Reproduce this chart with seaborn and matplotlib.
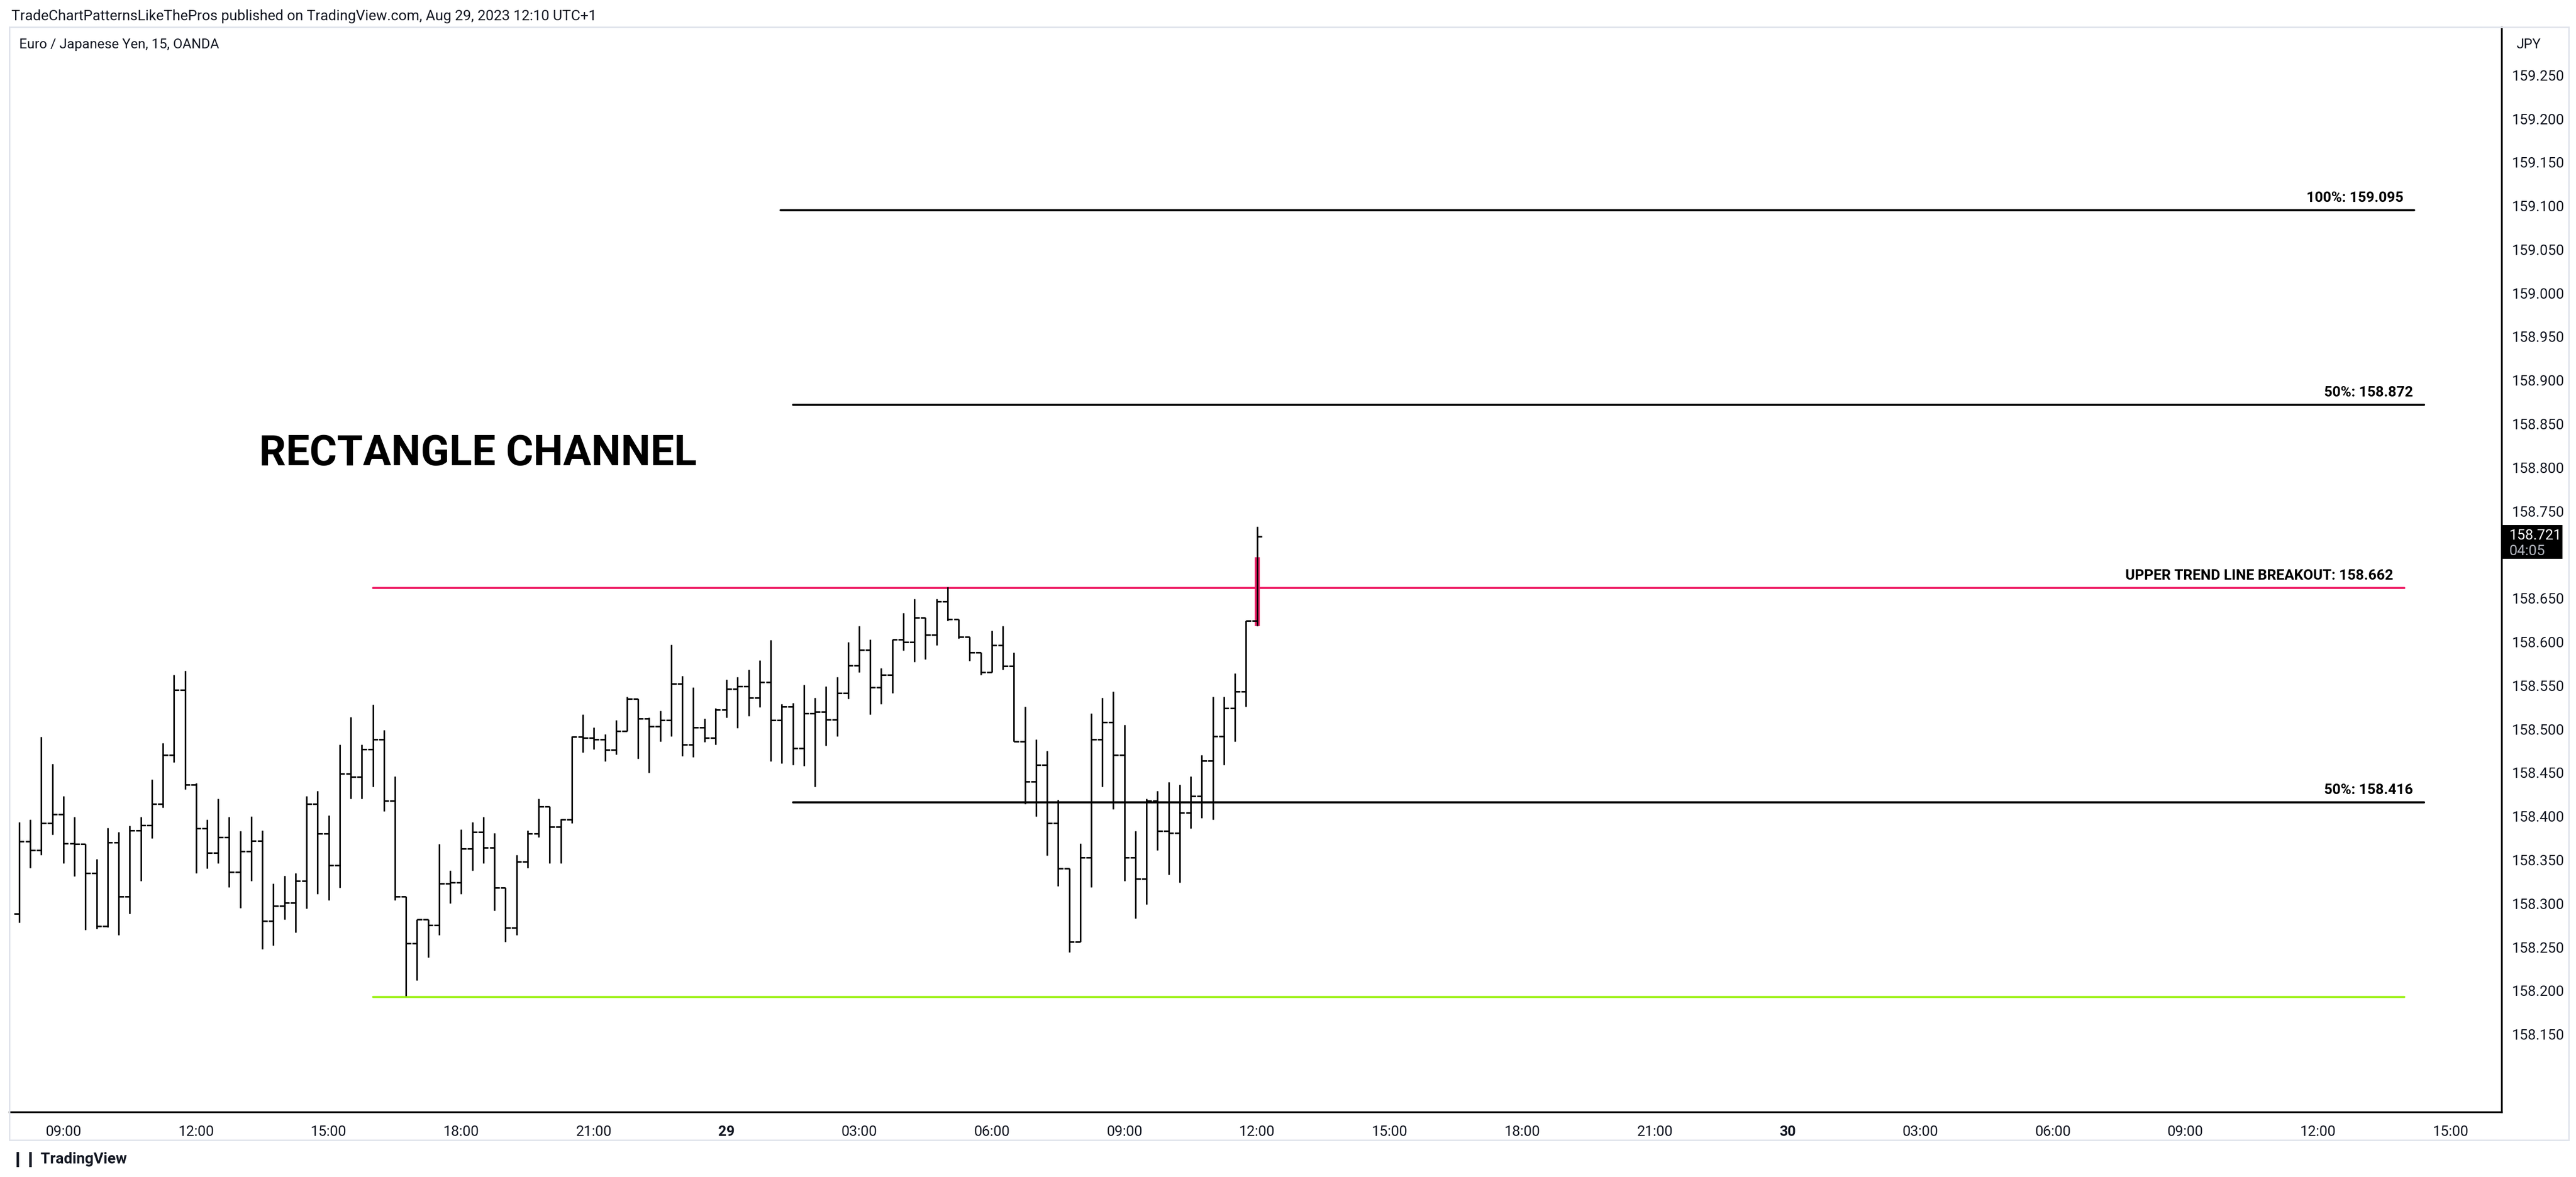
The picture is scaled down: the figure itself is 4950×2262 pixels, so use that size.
import numpy as np
import pandas as pd
import matplotlib
matplotlib.use("Agg")
import matplotlib.pyplot as plt
import matplotlib.transforms as mtrans
from matplotlib.patches import Rectangle
import seaborn as sns

# EUR/JPY 15-minute bars, Aug 28 08:00 -> Aug 29 12:00 (bar index 0..112)
opens = [158.288, 158.371, 158.361, 158.392, 158.402, 158.369, 158.368, 158.335, 158.274, 158.370,
         158.308, 158.384, 158.390, 158.414, 158.470, 158.545, 158.436, 158.386, 158.358, 158.376,
         158.336, 158.360, 158.372, 158.280, 158.297, 158.301, 158.326, 158.414, 158.380, 158.344,
         158.449, 158.445, 158.477, 158.488, 158.418, 158.308, 158.254, 158.282, 158.275, 158.323,
         158.324, 158.363, 158.382, 158.364, 158.318, 158.272, 158.348, 158.380, 158.411, 158.388,
         158.396, 158.491, 158.490, 158.488, 158.476, 158.498, 158.535, 158.512, 158.503, 158.510,
         158.552, 158.482, 158.502, 158.490, 158.522, 158.546, 158.549, 158.536, 158.554, 158.510,
         158.526, 158.478, 158.518, 158.520, 158.511, 158.541, 158.573, 158.591, 158.548, 158.562,
         158.603, 158.600, 158.628, 158.608, 158.646, 158.626, 158.606, 158.588, 158.565, 158.596,
         158.572, 158.486, 158.440, 158.459, 158.392, 158.340, 158.256, 158.353, 158.488, 158.508,
         158.470, 158.353, 158.328, 158.418, 158.383, 158.381, 158.404, 158.423, 158.464, 158.492,
         158.524, 158.543, 158.624]
highs = [158.393, 158.396, 158.491, 158.460, 158.423, 158.399, 158.368, 158.351, 158.387, 158.382,
         158.389, 158.399, 158.442, 158.484, 158.562, 158.567, 158.438, 158.396, 158.420, 158.399,
         158.383, 158.400, 158.384, 158.323, 158.332, 158.335, 158.423, 158.429, 158.401, 158.482,
         158.514, 158.482, 158.528, 158.499, 158.446, 158.308, 158.282, 158.282, 158.368, 158.338,
         158.385, 158.393, 158.399, 158.381, 158.318, 158.356, 158.384, 158.420, 158.411, 158.397,
         158.492, 158.517, 158.502, 158.494, 158.510, 158.537, 158.535, 158.513, 158.521, 158.597,
         158.561, 158.548, 158.512, 158.524, 158.557, 158.560, 158.568, 158.579, 158.602, 158.529,
         158.530, 158.551, 158.536, 158.549, 158.560, 158.600, 158.618, 158.603, 158.570, 158.603,
         158.633, 158.649, 158.628, 158.649, 158.663, 158.626, 158.606, 158.588, 158.613, 158.618,
         158.588, 158.526, 158.488, 158.475, 158.419, 158.340, 158.369, 158.518, 158.536, 158.543,
         158.505, 158.383, 158.420, 158.429, 158.439, 158.436, 158.446, 158.470, 158.537, 158.537,
         158.564, 158.624, 158.732]
lows = [158.278, 158.341, 158.356, 158.379, 158.346, 158.331, 158.270, 158.271, 158.273, 158.264,
        158.288, 158.326, 158.375, 158.410, 158.462, 158.431, 158.335, 158.340, 158.346, 158.319,
        158.295, 158.326, 158.248, 158.252, 158.282, 158.267, 158.294, 158.311, 158.304, 158.318,
        158.420, 158.420, 158.434, 158.406, 158.304, 158.194, 158.212, 158.238, 158.264, 158.300,
        158.311, 158.338, 158.346, 158.292, 158.256, 158.264, 158.341, 158.376, 158.346, 158.346,
        158.392, 158.473, 158.477, 158.463, 158.471, 158.498, 158.466, 158.450, 158.486, 158.492,
        158.469, 158.468, 158.485, 158.482, 158.513, 158.501, 158.515, 158.525, 158.463, 158.461,
        158.459, 158.458, 158.434, 158.481, 158.492, 158.535, 158.565, 158.517, 158.529, 158.541,
        158.590, 158.577, 158.580, 158.596, 158.624, 158.604, 158.578, 158.562, 158.565, 158.568,
        158.486, 158.414, 158.400, 158.355, 158.320, 158.244, 158.256, 158.319, 158.434, 158.408,
        158.326, 158.283, 158.299, 158.361, 158.333, 158.324, 158.386, 158.398, 158.396, 158.459,
        158.486, 158.526, 158.618]
closes = [158.371, 158.361, 158.392, 158.402, 158.369, 158.368, 158.335, 158.274, 158.370, 158.308,
          158.384, 158.390, 158.414, 158.470, 158.545, 158.436, 158.386, 158.358, 158.376, 158.336,
          158.360, 158.372, 158.280, 158.297, 158.301, 158.326, 158.414, 158.380, 158.344, 158.449,
          158.445, 158.477, 158.488, 158.418, 158.308, 158.254, 158.282, 158.275, 158.323, 158.324,
          158.363, 158.382, 158.364, 158.318, 158.272, 158.348, 158.380, 158.411, 158.388, 158.396,
          158.491, 158.490, 158.488, 158.476, 158.498, 158.535, 158.512, 158.503, 158.510, 158.552,
          158.482, 158.502, 158.490, 158.522, 158.546, 158.549, 158.536, 158.554, 158.510, 158.526,
          158.478, 158.518, 158.520, 158.511, 158.541, 158.573, 158.591, 158.548, 158.562, 158.603,
          158.600, 158.628, 158.608, 158.646, 158.626, 158.606, 158.588, 158.565, 158.596, 158.572,
          158.486, 158.440, 158.459, 158.392, 158.340, 158.256, 158.353, 158.488, 158.508, 158.470,
          158.353, 158.328, 158.418, 158.383, 158.381, 158.404, 158.423, 158.464, 158.492, 158.524,
          158.543, 158.624, 158.721]

# drawn levels: (value, start bar, end bar, label, colour)
level_vals = [159.095, 158.872, 158.662, 158.416, 158.193]
level_start = [68.9, 70.0, 32.0, 70.0, 32.0]
level_end = [216.7, 217.6, 215.8, 217.6, 215.8]
level_text = ["100%: 159.095", "50%: 158.872", "UPPER TREND LINE BREAKOUT: 158.662", "50%: 158.416", ""]
level_col = ["#000000", "#000000", "#ee2167", "#000000", "#a3f227"]

tick_pos = [4 + 12 * k for k in range(19)]
tick_lab = ["09:00", "12:00", "15:00", "18:00", "21:00", "29", "03:00", "06:00", "09:00", "12:00",
            "15:00", "18:00", "21:00", "30", "03:00", "06:00", "09:00", "12:00", "15:00"]
# 158.700 sits under the last-price box, so it is not labelled
price_ticks = [158.15, 158.20, 158.25, 158.30, 158.35, 158.40, 158.45, 158.50, 158.55, 158.60,
               158.65, 158.75, 158.80, 158.85, 158.90, 158.95, 159.00, 159.05, 159.10, 159.15,
               159.20, 159.25]

sns.set_theme(style="white")
plt.rcParams['font.family'] = ['Roboto', 'DejaVu Sans']

fig = plt.figure(figsize=(49.5, 22.62), dpi=100)
ax = fig.add_axes([0.0036, 0.0553, 0.9675, 0.9217])

df = pd.DataFrame(dict(o=opens, h=highs, l=lows, c=closes))
idx = np.arange(len(df))

# breakout highlight on the last bar
ax.vlines(idx[-1], 158.618, 158.697, color="#ee2167", linewidth=7, zorder=3)

ax.vlines(idx, df.l, df.h, color="black", linewidth=2.2, zorder=4)
ax.hlines(df.o, idx - 0.45, idx, color="black", linewidth=2.2, zorder=4)
ax.hlines(df.c, idx, idx + 0.45, color="black", linewidth=2.2, zorder=4)

for v, s, e, t, col in zip(level_vals, level_start, level_end, level_text, level_col):
    sns.lineplot(x=[s, e], y=[v, v], color=col, linewidth=3, ax=ax, zorder=2)
    if t:
        ax.text(e - 1.0, v + 0.006, t, ha="right", va="bottom", fontsize=20,
                fontweight="bold", color="black")

ax.text(21.7, 158.816, "RECTANGLE CHANNEL", fontsize=58, fontweight="bold",
        ha="left", va="center", color="black")

ax.set_xlim(-0.9, 224.6)
ax.set_ylim(158.061, 159.305)

ax.yaxis.tick_right()
ax.set_yticks(price_ticks)
ax.set_yticklabels([f"{p:.3f}" for p in price_ticks])
ax.tick_params(axis="y", length=0, pad=14, labelsize=20, colors="#131722")
ax.set_xticks(tick_pos)
ax.set_xticklabels(tick_lab)
ax.tick_params(axis="x", length=0, pad=18, labelsize=20, colors="#131722")
for lab in ax.get_xticklabels():
    if lab.get_text() in ("29", "30"):
        lab.set_fontweight("bold")

for side in ("left", "top"):
    ax.spines[side].set_color("#e0e3eb")
    ax.spines[side].set_linewidth(2)
for side in ("right", "bottom"):
    ax.spines[side].set_color("black")
    ax.spines[side].set_linewidth(2.5)
ax.grid(False)

# last price box
tr = mtrans.blended_transform_factory(ax.transAxes, ax.transData)
ax.add_patch(Rectangle((1.0, 158.695), 0.0245, 0.039, transform=tr, facecolor="black",
                       edgecolor="none", clip_on=False, zorder=5))
ax.text(1.003, 158.722, "158.721", transform=tr, color="white", fontsize=20,
        va="center", ha="left", zorder=6)
ax.text(1.003, 158.704, "04:05", transform=tr, color="#b2b5be", fontsize=20,
        va="center", ha="left", zorder=6)

# outer frame of the chart panel
fig.add_artist(Rectangle((0.0036, 0.0314), 0.9935, 0.9456, transform=fig.transFigure,
                         fill=False, edgecolor="#e0e3eb", linewidth=2))

fig.text(0.0045, 0.986, "TradeChartPatternsLikeThePros published on TradingView.com, Aug 29, 2023 12:10 UTC+1",
         fontsize=20, ha="left", va="center", color="#131722")
fig.text(0.0075, 0.962, "Euro / Japanese Yen, 15, OANDA", fontsize=19, ha="left",
         va="center", color="#131722")
fig.text(0.9815, 0.962, "JPY", fontsize=19, ha="center", va="center", color="#131722")
fig.text(0.0045, 0.015, "\u2759\u2759 TradingView", fontsize=21, ha="left", va="center",
         color="#131722", fontweight="bold")

fig.savefig("out.png", dpi=100, facecolor="white")
